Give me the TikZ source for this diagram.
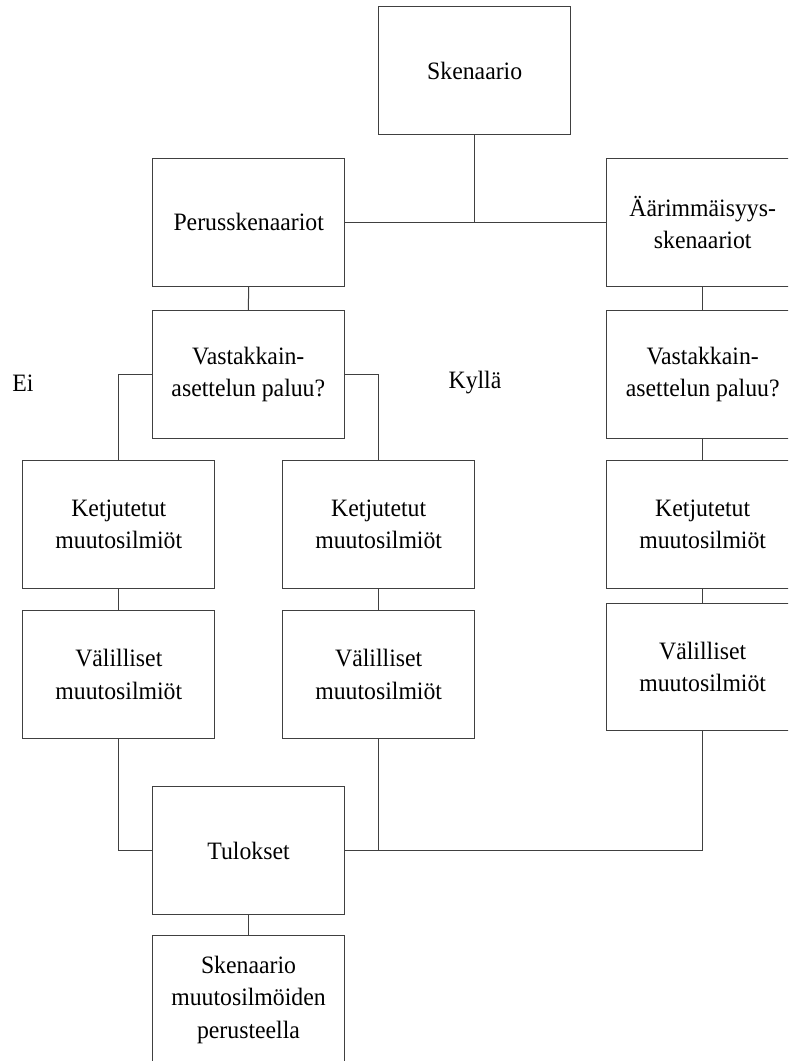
\documentclass[tikz,border=0pt]{standalone}
\usepackage{fontspec}
\setmainfont[FakeStretch=0.95]{Liberation Serif}
\begin{document}
\begin{tikzpicture}[x=1pt,y=-1pt,
  box/.style={draw=black!75, line width=1pt, minimum width=192pt, minimum height=127.5pt,
    inner sep=0pt, align=center, font=\fontsize{25}{32.5}\selectfont},
  lbl/.style={font=\fontsize{25}{32.5}\selectfont, inner sep=0pt},
  link/.style={draw=black!75, line width=1pt}]
\useasboundingbox (0,0) rectangle (788,1061);
\clip (0,0) rectangle (788,1061);
\node[box] (Sk) at (474.7,70.7) {Skenaario};
\node[box] (Per) at (248.7,222.3) {Perusskenaariot};
\node[box] (Ae) at (702.7,222.3) {Äärimmäisyys-\\skenaariot};
\node[box] (VaL) at (248.3,374.5) {Vastakkain-\\asettelun paluu?};
\node[box] (VaR) at (702.7,374.4) {Vastakkain-\\asettelun paluu?};
\node[box] (KeL) at (118.8,524.3) {Ketjutetut\\muutosilmiöt};
\node[box] (KeM) at (378.7,524.3) {Ketjutetut\\muutosilmiöt};
\node[box] (KeR) at (702.7,524.3) {Ketjutetut\\muutosilmiöt};
\node[box] (VeL) at (118.8,674.3) {Välilliset\\muutosilmiöt};
\node[box] (VeM) at (378.7,674.3) {Välilliset\\muutosilmiöt};
\node[box] (VeR) at (702.7,666.8) {Välilliset\\muutosilmiöt};
\node[box] (Tu) at (248.5,850.5) {Tulokset};
\node[box] (Sm) at (248.5,999.5) {Skenaario\\muutosilmöiden\\perusteella};
\node[lbl] (Ei) at (23,383) {Ei};
\node[lbl] (Ky) at (475,383) {Kyllä};
\draw[link] (Per.east) -- (Ae.west);
\draw[link] (Sk.south) -- (Sk.south |- Per.east);
\draw[link] (Per.south) -- (VaL.north);
\draw[link] (Ae.south) -- (VaR.north);
\draw[link] (VaL.west) -| (KeL.north);
\draw[link] (VaL.east) -| (KeM.north);
\draw[link] (VaR.south) -- (KeR.north);
\draw[link] (KeL.south) -- (VeL.north);
\draw[link] (KeM.south) -- (VeM.north);
\draw[link] (KeR.south) -- (VeR.north);
\draw[link] (VeL.south) |- (Tu.west);
\draw[link] (VeM.south) |- (Tu.east);
\draw[link] (VeR.south) |- (Tu.east);
\draw[link] (Tu.south) -- (Sm.north);
\end{tikzpicture}
\end{document}
